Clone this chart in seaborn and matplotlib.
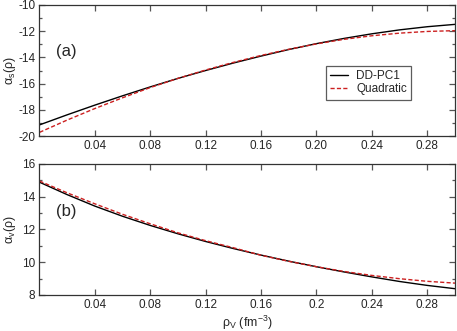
import pandas as pd
import seaborn as sns
import matplotlib
matplotlib.use('Agg')
import matplotlib.pyplot as plt
from matplotlib.ticker import MultipleLocator, FixedLocator, FixedFormatter

# density grid (fm^-3) and curves
rho = [0.00, 0.02, 0.04, 0.06, 0.08, 0.10, 0.12, 0.14,
       0.16, 0.18, 0.20, 0.22, 0.24, 0.26, 0.28, 0.30]

alpha_s_ddpc1 = [-19.15, -18.38, -17.64, -16.93, -16.25, -15.60, -15.00, -14.43,
                 -13.90, -13.40, -12.95, -12.55, -12.20, -11.90, -11.66, -11.48]
alpha_s_quad = [-19.72, -18.78, -17.90, -17.08, -16.30, -15.60, -14.96, -14.38,
                -13.85, -13.38, -12.97, -12.62, -12.35, -12.15, -12.02, -11.96]

alpha_v_ddpc1 = [14.88, 14.12, 13.42, 12.80, 12.24, 11.73, 11.26, 10.83,
                 10.43, 10.06, 9.72, 9.40, 9.10, 8.82, 8.58, 8.38]
alpha_v_quad = [14.95, 14.23, 13.56, 12.92, 12.34, 11.79, 11.31, 10.88,
                10.42, 10.05, 9.72, 9.43, 9.19, 8.99, 8.83, 8.72]

series_names = ['DD-PC1', 'Quadratic']
xticks = [0.04, 0.08, 0.12, 0.16, 0.20, 0.24, 0.28]
xticklabels_top = ['0.04', '0.08', '0.12', '0.16', '0.20', '0.24', '0.28']
xticklabels_bot = ['0.04', '0.08', '0.12', '0.16', '0.2', '0.24', '0.28']


def long_frame(a, b):
    d1 = pd.DataFrame({'rho': rho, 'val': a, 'model': series_names[0]})
    d2 = pd.DataFrame({'rho': rho, 'val': b, 'model': series_names[1]})
    return pd.concat([d1, d2], ignore_index=True)


sns.set_style('ticks')
plt.rcParams['font.family'] = ['Liberation Sans', 'DejaVu Sans']
plt.rcParams['axes.unicode_minus'] = False
plt.rcParams['mathtext.fontset'] = 'custom'
plt.rcParams['mathtext.rm'] = 'Liberation Sans'
plt.rcParams['mathtext.it'] = 'Liberation Sans'

palette = {'DD-PC1': 'black', 'Quadratic': '#cc2020'}
dashes = {'DD-PC1': '', 'Quadratic': (3, 1.6)}

fig = plt.figure(figsize=(4.57, 3.31), dpi=100)
ax1 = fig.add_axes([0.0864, 0.589, 0.9092, 0.396])
ax2 = fig.add_axes([0.0864, 0.109, 0.9092, 0.396])

panels = [
    (ax1, long_frame(alpha_s_ddpc1, alpha_s_quad), (-20, -10), xticklabels_top,
     r'$\mathrm{\alpha_s(\rho)}$', '(a)', 0.645),
    (ax2, long_frame(alpha_v_ddpc1, alpha_v_quad), (8, 16), xticklabels_bot,
     r'$\mathrm{\alpha_v(\rho)}$', '(b)', 0.634),
]

for ax, df, ylim, xlabels, ylab, tag, ty in panels:
    sns.lineplot(data=df, x='rho', y='val', hue='model', style='model',
                 palette=palette, dashes=dashes, linewidth=1.0, ax=ax,
                 legend=(ax is ax1))
    ax.set_xlim(0, 0.30)
    ax.set_ylim(*ylim)
    ax.xaxis.set_major_locator(FixedLocator(xticks))
    ax.xaxis.set_major_formatter(FixedFormatter(xlabels))
    ax.yaxis.set_major_locator(MultipleLocator(2))
    ax.yaxis.set_minor_locator(MultipleLocator(1))
    ax.tick_params(which='both', direction='in', top=True, right=True,
                   labelsize=8.5, color='#555555', width=0.9, pad=3)
    ax.tick_params(which='major', length=4.5)
    ax.tick_params(which='minor', length=2.5)
    for sp in ax.spines.values():
        sp.set_color('#333333')
        sp.set_linewidth(0.9)
    ax.set_xlabel('')
    ax.set_ylabel(ylab, fontsize=9, va='center')
    ax.yaxis.set_label_coords(-0.071, 0.5)
    ax.text(0.04, ty, tag, transform=ax.transAxes, fontsize=12, va='center')

ax2.set_xlabel(r'$\mathrm{\rho_V}$ (fm$^{-3}$)', fontsize=9, labelpad=2)

leg = ax1.legend(loc='center', bbox_to_anchor=(0.792, 0.408), fontsize=8.5,
                 frameon=True, fancybox=False, handlelength=1.5,
                 borderpad=0.35, labelspacing=0.15, handletextpad=0.75)
leg.get_frame().set_edgecolor('#333333')
leg.get_frame().set_linewidth(0.9)

fig.savefig('out.png', dpi=100)
